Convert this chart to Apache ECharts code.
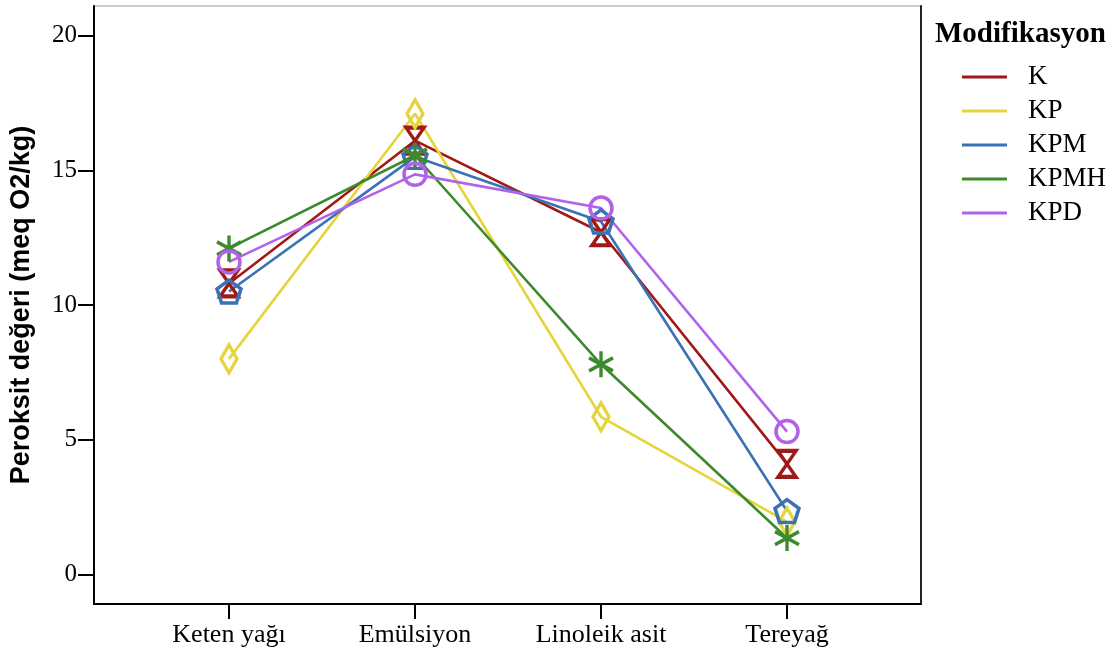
<!DOCTYPE html>
<html>
<head>
<meta charset="utf-8">
<script src="https://cdn.jsdelivr.net/npm/echarts@6/dist/echarts.min.js"></script>
<style>
  html, body { margin: 0; padding: 0; background: #fff; }
  #chart { width: 1120px; height: 655px; }
</style>
</head>
<body>
<div id="chart"></div>
<script>
// Categories along the x axis
var categories = ['Keten yağı', 'Emülsiyon', 'Linoleik asit', 'Tereyağ'];
// Peroxide value per modification (meq O2/kg)
var seriesNames = ['K', 'KP', 'KPM', 'KPMH', 'KPD'];
var valuesK    = [10.8, 16.1, 12.7, 4.1];
var valuesKP   = [8.0, 17.1, 5.85, 1.95];
var valuesKPM  = [10.5, 15.5, 13.1, 2.35];
var valuesKPMH = [12.1, 15.55, 7.8, 1.35];
var valuesKPD  = [11.6, 14.85, 13.6, 5.3];
var yTicks = [0, 5, 10, 15, 20];

var colors = ['#a01818', '#e6d43a', '#3a72b5', '#3d8a2d', '#b262ea'];
var symbols = [
  'path://M0,0 L18,0 L9,13 L18,26 L0,26 L9,13 Z',                     // hourglass
  'path://M8,0 L16,14 L8,28 L0,14 Z',                                 // diamond
  'path://M10,0 L19.51,6.91 L15.88,18.09 L4.12,18.09 L0.49,6.91 Z',   // pentagon
  'path://M11,0 L11,24 M0.6,6 L21.4,18 M0.6,18 L21.4,6',              // asterisk
  'circle'
];
var symbolSizes = [[18, 26], [16, 28], [24, 23], [24, 26], 22];
var allValues = [valuesK, valuesKP, valuesKPM, valuesKPMH, valuesKPD];

var serif = '"Liberation Serif", "DejaVu Serif", serif';
var sans = '"Liberation Sans", Arial, sans-serif';

var series = seriesNames.map(function (name, i) {
  return {
    name: name,
    type: 'line',
    data: allValues[i].map(function (v, k) { return [k, v]; }),
    symbol: symbols[i],
    symbolSize: symbolSizes[i],
    symbolKeepAspect: false,
    lineStyle: { color: colors[i], width: 2.6 },
    itemStyle: { color: 'rgba(0,0,0,0)', borderColor: colors[i], borderWidth: 3.5 },
    emphasis: { disabled: true },
    animation: false
  };
});

var chart = echarts.init(document.getElementById('chart'), null, { renderer: 'canvas' });
chart.setOption({
  backgroundColor: '#fff',
  animation: false,
  title: {
    text: 'Modifikasyon',
    left: 930,
    top: 15,
    textStyle: { fontFamily: serif, fontWeight: 'bold', fontSize: 29, color: '#000' }
  },
  legend: {
    orient: 'vertical',
    left: 962,
    top: 62,
    padding: 0,
    itemWidth: 45,
    itemHeight: 3,
    itemGap: 4,
    selectedMode: false,
    data: seriesNames.map(function (n, i) {
      return { name: n, icon: 'rect', itemStyle: { color: colors[i], borderWidth: 0 } };
    }),
    textStyle: { fontFamily: serif, fontSize: 27, color: '#000', lineHeight: 30, padding: [0, 0, 0, 16] }
  },
  grid: {
    left: 94, right: 199, top: 6, bottom: 51,
    containLabel: false,
    outerBoundsMode: 'none',
    show: true, borderColor: '#999', borderWidth: 1, backgroundColor: 'transparent'
  },
  xAxis: {
    type: 'value',
    min: -0.7258,
    max: 3.7204,
    splitLine: { show: false },
    axisLine: { show: true, onZero: false, lineStyle: { color: '#000', width: 2 } },
    axisTick: { show: true, customValues: [0, 1, 2, 3], length: 15, lineStyle: { color: '#000', width: 2 } },
    axisLabel: {
      customValues: [0, 1, 2, 3],
      margin: 18,
      fontFamily: serif, fontSize: 26, color: '#000',
      formatter: function (v) { return categories[Math.round(v)]; }
    }
  },
  yAxis: [{
    type: 'value',
    min: -1.1,
    max: 21.1,
    name: 'Peroksit değeri (meq O2/kg)',
    nameLocation: 'middle',
    nameGap: 59,
    nameTextStyle: { fontFamily: sans, fontWeight: 'bold', fontSize: 27, color: '#000' },
    splitLine: { show: false },
    axisLine: { show: true, onZero: false, lineStyle: { color: '#000', width: 2 } },
    axisTick: { show: true, customValues: yTicks, length: 16, lineStyle: { color: '#000', width: 2 } },
    axisLabel: { customValues: yTicks, margin: 17, fontFamily: serif, fontSize: 25, color: '#000' }
  }, {
    type: 'value',
    position: 'right',
    min: -1.1,
    max: 21.1,
    splitLine: { show: false },
    axisLine: { show: true, onZero: false, lineStyle: { color: '#222', width: 2 } },
    axisTick: { show: false },
    axisLabel: { show: false }
  }],
  series: series
});
</script>
</body>
</html>
